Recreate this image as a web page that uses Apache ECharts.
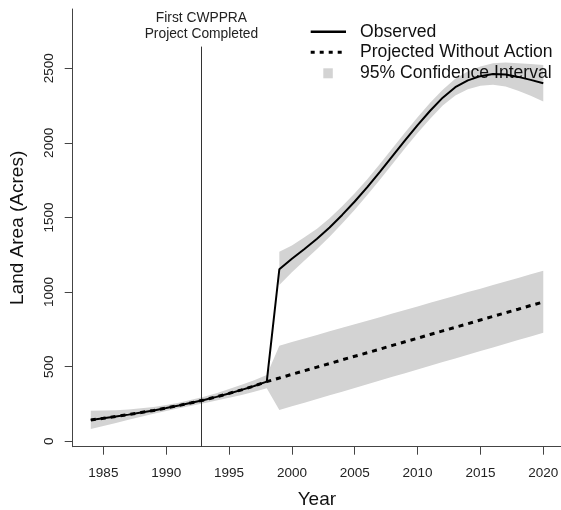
<!DOCTYPE html>
<html>
<head>
<meta charset="utf-8">
<script src="https://cdn.jsdelivr.net/npm/echarts@6/dist/echarts.min.js"></script>
<style>
  html, body { margin: 0; padding: 0; background: #fff; }
  #chart { width: 561px; height: 510px; }
</style>
</head>
<body>
<div id="chart"></div>
<script>
// Land area record, 1984-2020
const years = [1984, 1985, 1986, 1987, 1988, 1989, 1990, 1991, 1992, 1993, 1994, 1995, 1996, 1997, 1998,
               1999, 2000, 2001, 2002, 2003, 2004, 2005, 2006, 2007, 2008, 2009, 2010, 2011, 2012, 2013,
               2014, 2015, 2016, 2017, 2018, 2019, 2020];

// Observed land area (acres)
const observed = [143, 154, 166, 179, 193, 207, 223, 240, 258, 277, 298, 321, 345, 371, 400,
                  1153, 1223, 1289, 1357, 1433, 1517, 1607, 1703, 1805, 1911, 2017, 2119, 2215, 2303, 2373,
                  2419, 2447, 2461, 2458, 2442, 2422, 2399];

// Trend projected without restoration work (acres)
const projected = [143, 154, 166, 179, 193, 207, 223, 240, 258, 277, 298, 321, 345, 371, 400,
                   424, 449, 473, 497, 521, 546, 570, 594, 618, 643, 667, 691, 716, 740, 764,
                   788, 813, 837, 861, 885, 910, 934];

// 95% confidence interval of the fitted / projected trend
const projLower = [82, 102, 123, 144, 165, 184, 203, 221, 238, 255, 273, 292, 311, 332, 355,
                   210, 235, 259, 284, 309, 333, 358, 383, 407, 432, 457, 481, 506, 531, 555,
                   580, 605, 629, 654, 679, 703, 728];
const projUpper = [205, 206, 209, 214, 221, 230, 243, 259, 278, 299, 323, 350, 379, 410, 445,
                   641, 665, 689, 713, 737, 761, 784, 808, 832, 856, 880, 904, 928, 952, 976,
                   1000, 1023, 1047, 1071, 1095, 1119, 1143];

// 95% confidence interval around the observed curve after 1998
const obsYears = [1999, 2000, 2001, 2002, 2003, 2004, 2005, 2006, 2007, 2008, 2009,
                  2010, 2011, 2012, 2013, 2014, 2015, 2016, 2017, 2018, 2019, 2020];
const obsLower = [1048, 1133, 1211, 1289, 1371, 1459, 1552, 1650, 1752, 1858, 1964,
                  2066, 2162, 2250, 2317, 2359, 2382, 2389, 2378, 2350, 2315, 2277];
const obsUpper = [1271, 1313, 1367, 1425, 1495, 1575, 1662, 1756, 1858, 1964, 2070,
                  2172, 2268, 2356, 2429, 2479, 2512, 2533, 2538, 2534, 2529, 2521];

const xTicks = [1985, 1990, 1995, 2000, 2005, 2010, 2015, 2020];
const yTicks = [0, 500, 1000, 1500, 2000, 2500];

const projectYear = 1992.8;
const projectLabel = 'First CWPPRA\nProject Completed';
const legendLabels = ['Observed', 'Projected Without Action', '95% Confidence Interval'];

const FONT = '"Liberation Sans", Arial, Helvetica, sans-serif';
const BAND = '#d3d3d3';
const AXIS = '#444';

function pairs(xs, ys) { return xs.map((x, i) => [x, ys[i]]); }
const plain = v => String(v);

// Shaded interval drawn as one polygon through the axis scales
function bandSeries(name, xs, lo, hi) {
  const data = xs.map((x, i) => [x, lo[i], hi[i]]);
  return {
    name, type: 'custom', data, z: 1, silent: true,
    encode: { x: 0, y: [1, 2] },
    renderItem(params, api) {
      if (params.dataIndex !== 0) return null;
      const top = data.map(d => api.coord([d[0], d[2]]));
      const bot = data.map(d => api.coord([d[0], d[1]])).reverse();
      return { type: 'polygon', shape: { points: top.concat(bot) }, style: { fill: BAND } };
    }
  };
}

const chart = echarts.init(document.getElementById('chart'), null, { renderer: 'canvas' });

chart.setOption({
  animation: false,
  backgroundColor: '#fff',
  textStyle: { fontFamily: FONT },
  grid: { left: 72.7, right: 0, top: 9, bottom: 63.3, containLabel: false, outerBoundsMode: 'none' },
  xAxis: {
    type: 'value', min: 1982.56, max: 2021.41,
    name: 'Year', nameLocation: 'middle', nameGap: 44,
    nameTextStyle: { fontSize: 19, color: '#111', fontFamily: FONT },
    axisLine: { show: true, onZero: false, lineStyle: { color: AXIS, width: 1 } },
    axisTick: { show: true, customValues: xTicks, length: 8, lineStyle: { color: AXIS, width: 1 } },
    axisLabel: { customValues: xTicks, formatter: plain, fontSize: 13.5, color: '#222', margin: 20, fontFamily: FONT },
    splitLine: { show: false }
  },
  yAxis: {
    type: 'value', min: -36, max: 2897,
    name: 'Land Area (Acres)', nameLocation: 'middle', nameGap: 45,
    nameTextStyle: { fontSize: 19, color: '#111', fontFamily: FONT },
    axisLine: { show: true, onZero: false, lineStyle: { color: AXIS, width: 1 } },
    axisTick: { show: true, customValues: yTicks, length: 8, lineStyle: { color: AXIS, width: 1 } },
    axisLabel: { customValues: yTicks, formatter: plain, rotate: 90, fontSize: 13.5, color: '#222', margin: 16, fontFamily: FONT },
    splitLine: { show: false }
  },
  graphic: [
    { type: 'line', z: 3, shape: { x1: 310.7, y1: 31.7, x2: 346, y2: 31.7 },
      style: { stroke: '#000', lineWidth: 2.5 } },
    { type: 'text', z: 3, x: 360, y: 31.7,
      style: { text: legendLabels[0], fill: '#111', fontSize: 17.6, fontFamily: FONT, verticalAlign: 'middle', align: 'left' } },
    { type: 'line', z: 3, shape: { x1: 310.7, y1: 52.3, x2: 346, y2: 52.3 },
      style: { stroke: '#000', lineWidth: 3, lineDash: [4, 5] } },
    { type: 'text', z: 3, x: 360, y: 52.3,
      style: { text: legendLabels[1], fill: '#111', fontSize: 17.6, fontFamily: FONT, verticalAlign: 'middle', align: 'left' } },
    { type: 'rect', z: 3, shape: { x: 323.3, y: 68.3, width: 9.5, height: 10 },
      style: { fill: BAND } },
    { type: 'text', z: 3, x: 360, y: 73.3,
      style: { text: legendLabels[2], fill: '#111', fontSize: 17.6, fontFamily: FONT, verticalAlign: 'middle', align: 'left' } }
  ],
  series: [
    bandSeries('projCI', years, projLower, projUpper),
    bandSeries('obsCI', obsYears, obsLower, obsUpper),
    {
      name: 'Observed', type: 'line', z: 5, data: pairs(years, observed),
      showSymbol: false, symbol: 'none', silent: true,
      lineStyle: { color: '#000', width: 2 },
      markLine: {
        silent: true, symbol: ['none', 'none'],
        lineStyle: { color: '#333', width: 1, type: 'solid' },
        label: { show: true, position: 'end', formatter: projectLabel, fontSize: 13.8, lineHeight: 16.6,
                 color: '#222', fontFamily: FONT, distance: 4 },
        emphasis: { disabled: true },
        data: [[{ coord: [projectYear, -36] }, { coord: [projectYear, 2645] }]]
      }
    },
    {
      name: 'Projected', type: 'line', z: 6, data: pairs(years, projected),
      showSymbol: false, symbol: 'none', silent: true,
      lineStyle: { color: '#000', width: 3, type: [5, 5] }
    }
  ]
});
</script>
</body>
</html>
